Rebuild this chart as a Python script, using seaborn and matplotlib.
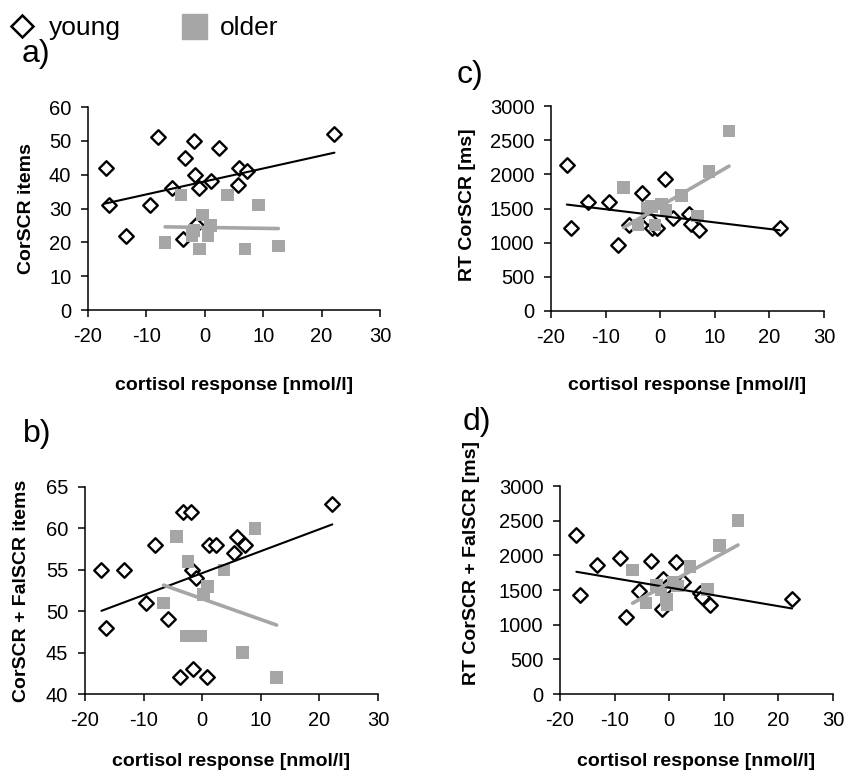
import numpy as np
import pandas as pd
import matplotlib
matplotlib.use("Agg")
import matplotlib.pyplot as plt
from matplotlib.lines import Line2D
import seaborn as sns

# ---------------- data ----------------
# panel a: CorSCR items
a_young_x = [-17.0, -16.4, -13.5, -9.4, -8.0, -5.7, -3.7, -3.4, -1.9, -1.7, -1.5, -1.0, 1.0, 2.5, 5.7, 5.9, 7.2, 22.2]
a_young_y = [42, 31, 22, 31, 51, 36, 21, 45, 50, 40, 25, 36, 38, 48, 37, 42, 41, 52]
a_older_x = [-6.8, -4.1, -2.2, -1.8, -0.9, -0.4, 0.5, 1.0, 3.9, 6.9, 9.2, 12.6]
a_older_y = [20, 34, 22, 23.5, 18, 28, 22, 25, 34, 18, 31, 19]
a_fit_young = (38.0, 0.383)   # intercept, slope
a_fit_older = (24.4, -0.026)

# panel b: CorSCR + FalSCR items
b_young_x = [-17.2, -16.5, -13.3, -9.6, -8.1, -5.9, -3.8, -3.2, -1.9, -1.8, -1.6, -1.0, 0.9, 1.1, 2.3, 5.5, 5.9, 7.3, 22.2]
b_young_y = [55, 48, 55, 51, 58, 49, 42, 62, 62, 55, 43, 54, 42, 58, 58, 57, 59, 58, 63]
b_older_x = [-6.6, -4.4, -2.7, -2.4, -1.3, -0.2, 0.2, 0.9, 3.75, 6.9, 9.0, 12.7]
b_older_y = [51, 59, 47, 56, 47, 47, 52, 53, 55, 45, 60, 42]
b_fit_young = (54.6, 0.265)
b_fit_older = (51.5, -0.25)

# panel c: RT CorSCR [ms]
c_young_x = [-17.1, -16.3, -13.3, -9.4, -7.8, -5.7, -3.4, -2.0, -1.5, -0.6, 0.9, 2.3, 5.3, 5.7, 7.1, 21.9]
c_young_y = [2130, 1220, 1590, 1590, 970, 1260, 1730, 1350, 1210, 1210, 1930, 1360, 1420, 1270, 1180, 1210]
c_older_x = [-6.7, -4.1, -2.4, -1.6, -0.9, 0.2, 1.1, 3.9, 6.8, 8.9, 12.6]
c_older_y = [1810, 1260, 1500, 1530, 1260, 1570, 1480, 1690, 1390, 2040, 2630]
c_fit_young = (1393, -9.64)
c_fit_older = (1533, 46.6)

# panel d: RT CorSCR + FalSCR [ms]
d_young_x = [-17.0, -16.3, -13.3, -9.1, -7.9, -5.6, -3.3, -1.3, -1.2, -0.5, 1.2, 2.5, 5.6, 6.0, 7.4, 22.5]
d_young_y = [2300, 1430, 1860, 1960, 1110, 1480, 1920, 1230, 1660, 1550, 1910, 1610, 1460, 1400, 1280, 1370]
d_older_x = [-6.7, -4.2, -2.3, -1.5, -0.5, -0.4, 0.7, 1.5, 3.8, 7.0, 9.2, 12.6]
d_older_y = [1790, 1310, 1570, 1500, 1360, 1290, 1610, 1560, 1840, 1510, 2140, 2500]
d_fit_young = (1535, -13.4)
d_fit_older = (1601, 43.5)

x_ticks = [-20, -10, 0, 10, 20, 30]
xlabel = "cortisol response [nmol/l]"
ylabels = {"a": "CorSCR items", "b": "CorSCR + FalSCR items",
           "c": "RT CorSCR [ms]", "d": "RT CorSCR + FalSCR [ms]"}
yticks = {"a": [0, 10, 20, 30, 40, 50, 60], "b": [40, 45, 50, 55, 60, 65],
          "c": [0, 500, 1000, 1500, 2000, 2500, 3000], "d": [0, 500, 1000, 1500, 2000, 2500, 3000]}
group_labels = ["young", "older"]

# ---------------- style ----------------
sns.set_theme(style="ticks")
plt.rcParams["font.family"] = ["Liberation Sans", "DejaVu Sans"]
plt.rcParams["text.color"] = "black"
plt.rcParams["axes.labelcolor"] = "black"

GRAY = "#a6a6a6"
W, H = 857, 778
fig = plt.figure(figsize=(W / 100, H / 100), dpi=100)

def rect(l, r, t, b):
    return [l / W, 1 - b / H, (r - l) / W, (b - t) / H]

axes_pos = {
    "a": rect(88, 380, 107, 310),
    "c": rect(551, 824, 106, 311),
    "b": rect(85, 378, 487, 694),
    "d": rect(560, 833, 486, 694),
}
# placement of the axis titles
ylabel_y = {"a": 0.5, "b": 0.5, "c": 0.52, "d": 0.63}
ylabel_x_px = {"a": 27, "b": 22, "c": 467, "d": 472}
xlabel_y_px = {"a": 385, "b": 762, "c": 385, "d": 762}

panels = {
    "a": (a_young_x, a_young_y, a_older_x, a_older_y, a_fit_young, a_fit_older),
    "b": (b_young_x, b_young_y, b_older_x, b_older_y, b_fit_young, b_fit_older),
    "c": (c_young_x, c_young_y, c_older_x, c_older_y, c_fit_young, c_fit_older),
    "d": (d_young_x, d_young_y, d_older_x, d_older_y, d_fit_young, d_fit_older),
}

for key, (yx, yy, ox, oy, fy, fo) in panels.items():
    pos = axes_pos[key]
    ax = fig.add_axes(pos)
    dy = pd.DataFrame({"x": yx, "y": yy})
    do = pd.DataFrame({"x": ox, "y": oy})
    sns.scatterplot(data=dy, x="x", y="y", ax=ax, marker="D", s=55,
                    facecolor="white", edgecolor="black", linewidth=1.7, zorder=3)
    sns.scatterplot(data=do, x="x", y="y", ax=ax, marker="s", s=80,
                    color=GRAY, edgecolor="none", linewidth=0, zorder=4)
    # trend lines across the range of each group
    xr = np.array([min(yx), max(yx)])
    ax.plot(xr, fy[0] + fy[1] * xr, color="black", lw=1.5, zorder=5)
    xr = np.array([min(ox), max(ox)])
    ax.plot(xr, fo[0] + fo[1] * xr, color=GRAY, lw=2.6, zorder=5)

    yt = yticks[key]
    ax.set_xlim(x_ticks[0], x_ticks[-1])
    ax.set_ylim(yt[0], yt[-1])
    ax.set_xticks(x_ticks)
    ax.set_yticks(yt)
    ax.set_xticklabels([str(v) for v in x_ticks])
    ax.set_yticklabels([str(v) for v in yt])
    ax.tick_params(axis="both", labelsize=14.5, color="black", labelcolor="black",
                   length=5, width=1.1, direction="out", pad=7)
    ax.set_xlabel(xlabel, fontsize=14, fontweight="bold", color="black")
    ax.set_ylabel(ylabels[key], fontsize=14, fontweight="bold", color="black")
    left_px, width_px = pos[0] * W, pos[2] * W
    bottom_px = (1 - pos[1]) * H
    height_px = pos[3] * H
    ax.yaxis.set_label_coords((ylabel_x_px[key] - left_px) / width_px, ylabel_y[key])
    ax.yaxis.label.set_va("center")
    ax.xaxis.set_label_coords(0.5, -(xlabel_y_px[key] - bottom_px) / height_px)
    ax.xaxis.label.set_va("center")
    for s in ["top", "right"]:
        ax.spines[s].set_visible(False)
    for s in ["left", "bottom"]:
        ax.spines[s].set_color("black")
        ax.spines[s].set_linewidth(1.1)
    ax.set_facecolor("white")
    ax.grid(False)

# panel letters
fig.text(22 / W, 1 - 54 / H, "a)", fontsize=23, va="center", ha="left", color="black")
fig.text(457 / W, 1 - 75 / H, "c)", fontsize=23, va="center", ha="left", color="black")
fig.text(23 / W, 1 - 434 / H, "b)", fontsize=23, va="center", ha="left", color="black")
fig.text(463 / W, 1 - 422 / H, "d)", fontsize=23, va="center", ha="left", color="black")

handles = [
    Line2D([], [], marker="D", ls="", mfc="white", mec="black", mew=1.8, ms=11.5),
    Line2D([], [], marker="s", ls="", mfc=GRAY, mec=GRAY, ms=18),
]
leg = fig.legend(handles=handles, labels=group_labels, loc="center left",
                 bbox_to_anchor=(9 / W, 1 - 28 / H), ncol=2, frameon=False, fontsize=19,
                 handlelength=1.0, handletextpad=0.5, columnspacing=2.27,
                 borderaxespad=0, borderpad=0)
for t in leg.get_texts():
    t.set_color("black")

fig.savefig("out.png", dpi=100, facecolor="white")
